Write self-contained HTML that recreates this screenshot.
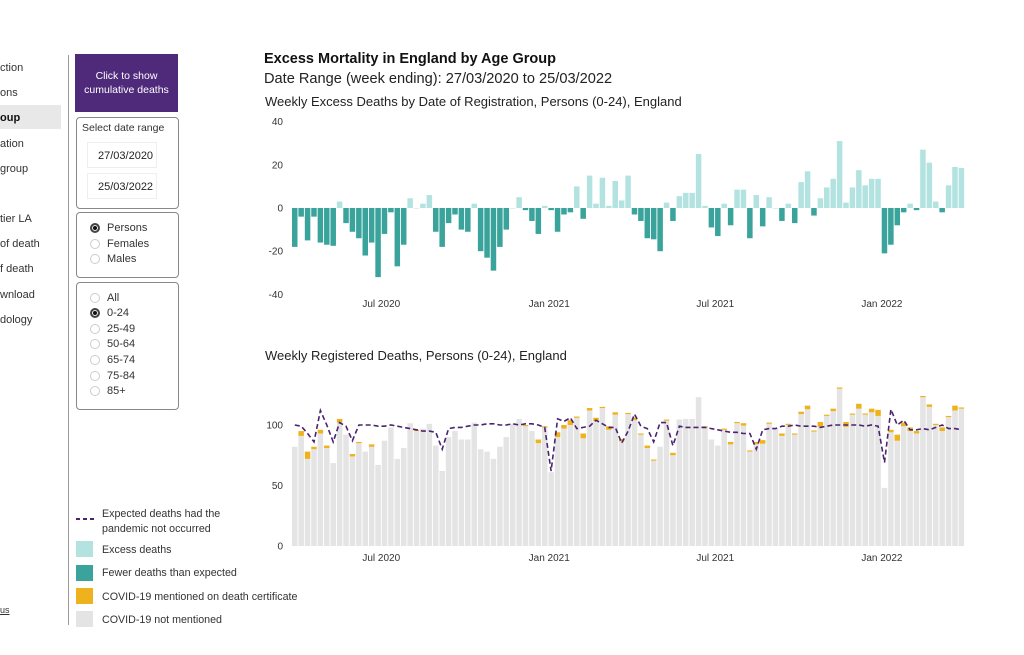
<!DOCTYPE html>
<html><head><meta charset="utf-8">
<style>
body{margin:0;width:1024px;height:655px;background:#fff;font-family:"Liberation Sans",sans-serif;overflow:hidden;position:relative;color:#222}
.nav{position:absolute;left:0;font-size:11px;color:#333}
.box{position:absolute;border:1px solid #888;border-radius:4px;background:#fff}
.rad{position:absolute;font-size:11px;color:#333}
.rad i{position:absolute;left:-17px;top:1px;width:10px;height:10px;border:1px solid #ccc;border-radius:50%;box-sizing:border-box}
.rad i.on{border:2px solid #444;background:#111;box-shadow:inset 0 0 0 1px #fff}
.dt{position:absolute;left:10px;width:70px;height:26px;border:1px solid #eee;font-size:11px;line-height:26px;padding-left:10px;box-sizing:border-box;overflow:hidden;white-space:nowrap}
.lg{position:absolute;left:102px;font-size:10.7px;color:#333}
.sw{position:absolute;left:76px;width:17px;height:16px}
</style></head><body>
<div class="nav" style="top:62px">ction</div>
<div class="nav" style="top:87px">ons</div>
<div style="position:absolute;left:0;top:105px;width:61px;height:24px;background:#e8e8e8"></div>
<div class="nav" style="top:112px;font-weight:bold;color:#111">oup</div>
<div class="nav" style="top:138px">ation</div>
<div class="nav" style="top:163px">group</div>
<div class="nav" style="top:213px">tier LA</div>
<div class="nav" style="top:238px">of death</div>
<div class="nav" style="top:263px">f death</div>
<div class="nav" style="top:289px">wnload</div>
<div class="nav" style="top:314px">dology</div>
<div class="nav" style="top:605px;font-size:9px;text-decoration:underline">us</div>
<div style="position:absolute;left:68px;top:55px;width:1px;height:570px;background:#999"></div>

<div style="position:absolute;left:75px;top:54px;width:103px;height:58px;background:#4f2a7a;color:#fff;font-size:10.5px;text-align:center;line-height:14px;box-sizing:border-box;padding-top:15px">Click to show cumulative deaths</div>
<div class="box" style="left:76px;top:117px;width:101px;height:90px">
 <div style="position:absolute;left:5px;top:4px;font-size:10.5px;color:#333">Select date range</div>
 <div class="dt" style="top:24px">27/03/2020</div>
 <div class="dt" style="top:55px">25/03/2022</div>
</div>
<div class="box" style="left:76px;top:212px;width:101px;height:64px">
 <div class="rad" style="left:30px;top:9px"><i class="on"></i>Persons</div>
 <div class="rad" style="left:30px;top:25px"><i></i>Females</div>
 <div class="rad" style="left:30px;top:40px"><i></i>Males</div>
</div>
<div class="box" style="left:76px;top:282px;width:101px;height:126px">
 <div class="rad" style="left:30px;top:9px"><i></i>All</div>
 <div class="rad" style="left:30px;top:24px"><i class="on"></i>0-24</div>
 <div class="rad" style="left:30px;top:40px"><i></i>25-49</div>
 <div class="rad" style="left:30px;top:55px"><i></i>50-64</div>
 <div class="rad" style="left:30px;top:71px"><i></i>65-74</div>
 <div class="rad" style="left:30px;top:87px"><i></i>75-84</div>
 <div class="rad" style="left:30px;top:102px"><i></i>85+</div>
</div>

<svg style="position:absolute;left:76px;top:515px" width="20" height="8"><line x1="0" y1="4" x2="20" y2="4" stroke="#4b2470" stroke-width="2" stroke-dasharray="4,3"/></svg>
<div class="lg" style="top:507px;line-height:15px">Expected deaths had the<br>pandemic not occurred</div>
<div class="sw" style="top:541px;background:#b3e3e0"></div>
<div class="lg" style="top:544px">Excess deaths</div>
<div class="sw" style="top:565px;background:#3aa39b"></div>
<div class="lg" style="top:567px">Fewer deaths than expected</div>
<div class="sw" style="top:588px;background:#efb21f"></div>
<div class="lg" style="top:591px">COVID-19 mentioned on death certificate</div>
<div class="sw" style="top:611px;background:#e4e4e4"></div>
<div class="lg" style="top:614px">COVID-19 not mentioned</div>

<div style="position:absolute;left:264px;top:51px;font-size:14.5px;font-weight:bold;color:#111">Excess Mortality in England by Age Group</div>
<div style="position:absolute;left:264px;top:71px;font-size:14.6px;color:#222">Date Range (week ending): 27/03/2020 to 25/03/2022</div>
<div style="position:absolute;left:265px;top:94px;font-size:13px;color:#222">Weekly Excess Deaths by Date of Registration, Persons (0-24), England</div>
<div style="position:absolute;left:265px;top:348px;font-size:13px;color:#222">Weekly Registered Deaths, Persons (0-24), England</div>

<svg id="ch" style="position:absolute;left:0;top:0" width="1024" height="655" font-family="Liberation Sans, sans-serif" font-size="10" fill="#333"></svg>
<script>
const excess=[-18,-4,-15,-4,-16,-17,-17.5,3,-7,-11,-14,-22,-16,-32,-12,-2,-27,-17,4.5,0,2,6,-11,-18,-7,-3,-10,-11,2,-20,-23,-29,-18,-10,0,5,-1,-6,-12,1,-1,-11,-3,-2,10,-5,15,2,14,1,12.5,3.5,15,-3,-6,-14,-14.5,-20,2.5,-6,5.5,7,7,25,1,-9,-13,2,-8,8.5,8.5,-14,6,-8.5,5,0,-6,2,-7,12,17,-3.5,4.5,9.5,13.5,31,2.5,9.5,17.5,10.5,13.5,13.5,-21,-17,-8,-2,2,-1,27,21,3,-2,10.5,19,18.5];
const expected=[100,99,93,86,112,100,86,102,99,87,100,100,100,99,99,100,99,98,97,96,95,95,94,80,97,98,98,99,100,100,101,101,100,100,101,100,101,101,100,98,62,105,103,106,97,98,99,104,101,98,98,85,95,109,99,97,86,102,102,83,99,98,98,98,98,97,96,95,94,94,93,93,80,96,97,97,99,99,100,99,99,99,98,99,100,100,100,100,100,99,100,99,69,113,100,104,96,96,97,96,98,100,97,97,96];
const covid=[0,4,6,2,3,2,0,3,0,2,1,0,2,0,0,0,0,0,0,1,0,0,0,0,0,0,0,0,0,0,0,0,0,0,0,0,1,0,3,1,0,4,3,4,1,4,2,3,1,3,2,2,1,2,1,2,1,0,1,2,0,0,0,0,1,0,0,1,2,1,2,1,2,3,1,0,2,1,1,2,3,1,4,1,2,1,4,1,4,1,3,5,0,2,5,3,3,2,1,2,1,3,1,4,1];
const topTicks=[40,20,0,-20,-40];
const botTicks=[100,50,0];
const xLabels=["Jul 2020","Jan 2021","Jul 2021","Jan 2022"];
const xLabelIdx=[13.5,39.7,65.6,91.6];
const svg=document.getElementById('ch');const NS='http://www.w3.org/2000/svg';
const x0=292,step=6.41,bw=5.5;
const xb=i=>x0+i*step;
const yT=v=>208-v*2.16;
const yB=v=>546-v*1.21;
function mk(t,a){const e=document.createElementNS(NS,t);for(const k in a)e.setAttribute(k,a[k]);svg.appendChild(e);return e;}
topTicks.forEach(t=>{const e=mk('text',{x:283,y:yT(t)+3.5,'text-anchor':'end'});e.textContent=t;

});
botTicks.forEach(t=>{const e=mk('text',{x:283,y:yB(t)+3.5,'text-anchor':'end'});e.textContent=t;

});
xLabels.forEach((l,k)=>{const cx=xb(xLabelIdx[k])+bw/2;
[307,561].forEach(y=>{const e=mk('text',{x:cx,y:y,'text-anchor':'middle'});e.textContent=l;

});});
excess.forEach((v,i)=>{const y=Math.min(yT(v),yT(0));const h=Math.abs(yT(v)-yT(0));
const r=mk('rect',{x:xb(i),y:y,width:bw,height:Math.max(h,0.5),fill:v>=0?'#b3e3e0':'#3aa39b'});

});
excess.forEach((v,i)=>{const tot=expected[i]+v;const c=Math.min(covid[i],tot);
const g=mk('rect',{x:xb(i),y:yB(tot-c),width:bw,height:yB(0)-yB(tot-c),fill:'#e4e4e4'});


if(c>0){const o=mk('rect',{x:xb(i),y:yB(tot),width:bw,height:yB(tot-c)-yB(tot),fill:'#efb21f'});

}});
const pts=expected.map((v,i)=>(xb(i)+bw/2).toFixed(1)+','+yB(v).toFixed(1)).join(' ');
const pl=mk('polyline',{points:pts,fill:'none',stroke:'#4b2470','stroke-width':1.6,'stroke-dasharray':'5,3'});


</script>
</body></html>
